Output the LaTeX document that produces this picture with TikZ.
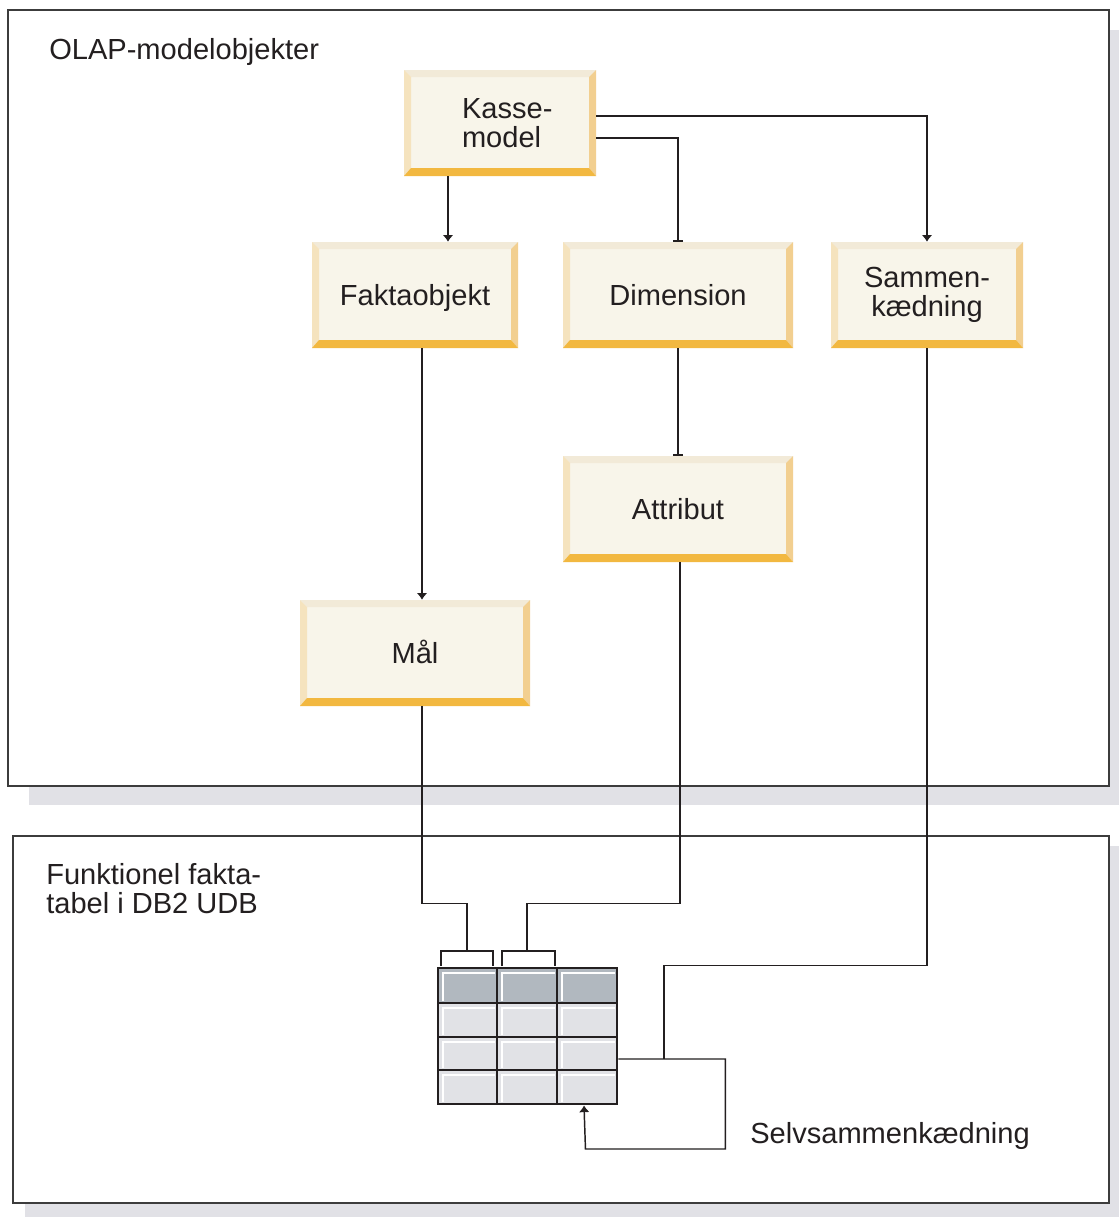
\documentclass[tikz,border=0pt]{standalone}
\usepackage{fontspec}
\setmainfont{Liberation Sans}
\usetikzlibrary{arrows.meta}

\definecolor{bevtop}{HTML}{F2EAD8}
\definecolor{bevleft}{HTML}{F5E3BE}
\definecolor{bevright}{HTML}{F2CF90}
\definecolor{bevbot}{HTML}{F2B840}
\definecolor{boxfill}{HTML}{F8F5EA}
\definecolor{shadowgray}{HTML}{E1E1E6}
\definecolor{frame}{HTML}{3C3C3C}
\definecolor{hdrcell}{HTML}{B1B8BF}
\definecolor{bodycell}{HTML}{E1E2E6}
\definecolor{ink}{HTML}{231F20}

\newcommand\objfont{\fontsize{21.8}{21.75}\selectfont}

\tikzset{
  objbox/.style={minimum height=79.5pt, minimum width=#1, inner sep=0pt,
    fill=boxfill, text=ink, font=\objfont, align=center,
    path picture={
      \fill[bevtop] (path picture bounding box.north west) -- (path picture bounding box.north east)
        -- ([shift={(-7,7)}]path picture bounding box.north east) -- ([shift={(7,7)}]path picture bounding box.north west) -- cycle;
      \fill[bevleft] (path picture bounding box.north west) -- (path picture bounding box.south west)
        -- ([shift={(7,-8)}]path picture bounding box.south west) -- ([shift={(7,7)}]path picture bounding box.north west) -- cycle;
      \fill[bevright] (path picture bounding box.north east) -- (path picture bounding box.south east)
        -- ([shift={(-7,-8)}]path picture bounding box.south east) -- ([shift={(-7,7)}]path picture bounding box.north east) -- cycle;
      \fill[bevbot] (path picture bounding box.south west) -- (path picture bounding box.south east)
        -- ([shift={(-7,-8)}]path picture bounding box.south east) -- ([shift={(7,-8)}]path picture bounding box.south west) -- cycle;
    }},
  label text/.style={inner sep=0pt, text=ink, font=\objfont},
  panel/.style={fill=white, draw=frame, line width=1.1pt},
  link/.style={draw=ink, line width=1.1pt},
  tiparrow/.style={link, -{Latex[length=5pt,width=8pt]}},
  tipbar/.style={link, -{Bar[width=7.5pt,line width=1.1pt]}},
}

\begin{document}
\begin{tikzpicture}[x=0.75pt, y=-0.75pt]
\useasboundingbox (0,0) rectangle (1119,1217);

% panels with their drop shadows
\fill[shadowgray] (29,30) rectangle (1119,805);
\fill[shadowgray] (25,846) rectangle (1119,1217);
\draw[panel] (8,10) rectangle (1109,786);
\draw[panel] (13,836) rectangle (1109,1203);

\node[label text, anchor=base west] (olap) at (49,59) {OLAP-modelobjekter};
\node[label text, anchor=north west, align=left] (fact) at (46,863) {Funktionel fakta-\\tabel i DB2 UDB};
\node[label text, anchor=base west] (selfjoin) at (750,1143) {Selvsammenkædning};

% model objects
\node[objbox=144pt, text width=57pt, align=left] (kasse) at (500,123) {\mbox{Kasse-}\\model};
\node[objbox=154.5pt, text depth=0pt] (fakta) at (415,295) {Faktaobjekt};
\node[objbox=172.5pt] (dim) at (678,295) {Dimension};
\node[objbox=144pt] (samm) at (927,295) {Sammen-\\kædning};
\node[objbox=172.5pt] (attr) at (678,509) {Attribut};
\node[objbox=172.5pt, text height=15.5pt] (maal) at (415,653) {Mål};

% fact table: cells, highlights and grid
\foreach \xa/\xb in {438/497,497/557,557/617} {
  \fill[hdrcell] (\xa,968) rectangle (\xb,1003);
  \foreach \ya/\yb in {1003/1037,1037/1070,1070/1104}
    \fill[bodycell] (\xa,\ya) rectangle (\xb,\yb);
  \foreach \ya/\yb in {968/1003,1003/1037,1037/1070,1070/1104}
    \draw[white, line width=0.9pt] (\xa+5,\yb-2) -- (\xa+5,\ya+5) -- (\xb-2,\ya+5);
}
\foreach \gx in {497,557} \draw[ink, line width=1.1pt] (\gx,968) -- (\gx,1104);
\foreach \gy in {1003,1037,1070} \draw[ink, line width=1.1pt] (438,\gy) -- (617,\gy);
\node[draw=ink, line width=2.2pt, minimum width=134.25pt, minimum height=102pt, inner sep=0pt] (tbl) at (527.5,1036) {};

% column brackets
\draw[link] (441,966) -- (441,951) -- (493,951) -- (493,966);
\draw[link] (502,966) -- (502,951) -- (555,951) -- (555,966);
\coordinate (brA) at (467,951);
\coordinate (brB) at (527,951);
\coordinate (jn) at (664,1059);

% connectors
\draw[tiparrow] ([xshift=-39pt]kasse.south) -- ([xshift=-39pt]kasse.south |- fakta.north);
\draw[tipbar] ([yshift=-11.25pt]kasse.east) -| (dim.north);
\draw[tiparrow] ([yshift=5.25pt]kasse.east) -| (samm.north);
\draw[tiparrow] ([xshift=5.25pt]fakta.south) -- ([xshift=5.25pt]maal.north);
\draw[tipbar] (dim.south) -- (attr.north);
\draw[link] ([xshift=5.25pt]maal.south) -- ++(0,197) -| (brA);
\draw[link] ([xshift=1.5pt]attr.south) -- ++(0,341) -| (brB);
\draw[link] (samm.south) -- ++(0,617) -| (jn);
\draw[tiparrow] ([yshift=-17.25pt]tbl.east) -- ++(107,0) -- ++(0,90) -- ++(-140,0) -- ([xshift=42.375pt]tbl.south);
\end{tikzpicture}
\end{document}
